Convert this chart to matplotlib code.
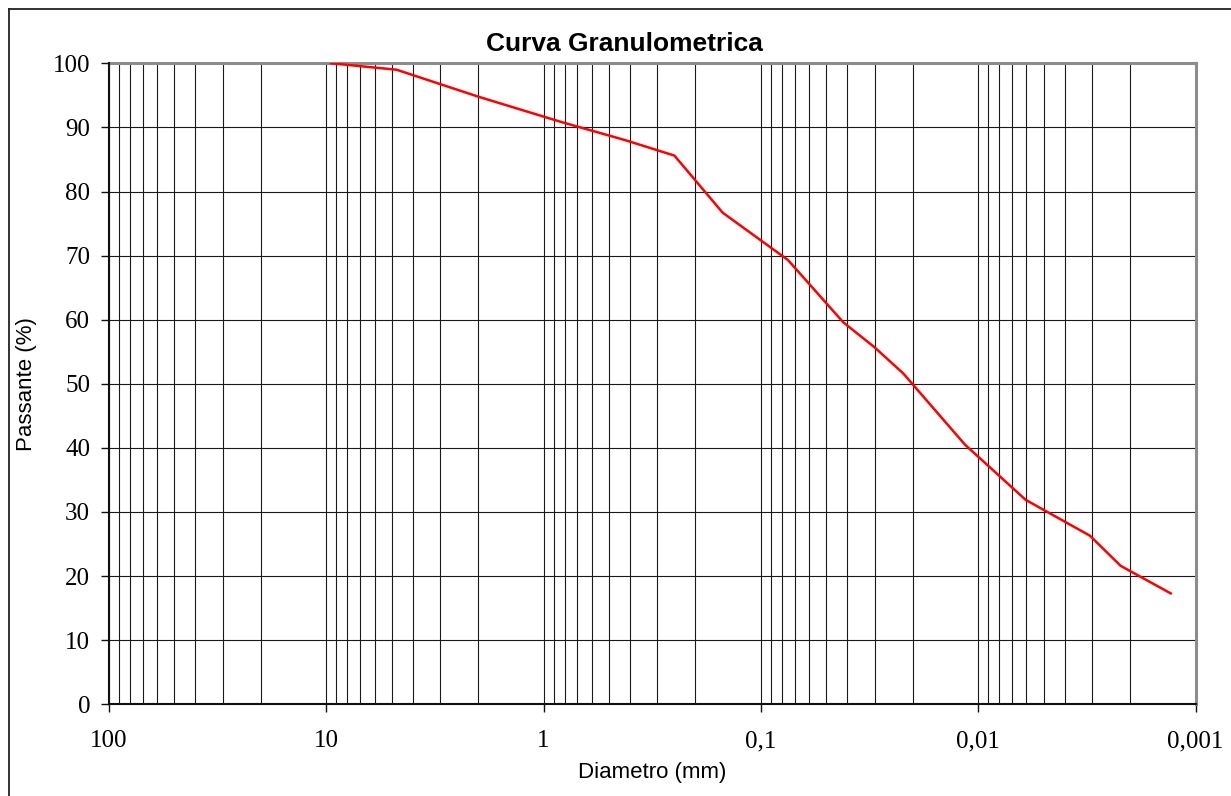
import matplotlib
matplotlib.use("Agg")
import matplotlib.pyplot as plt
from matplotlib.ticker import FixedLocator, FixedFormatter, LogLocator, NullFormatter
from matplotlib.lines import Line2D

# ---- data ----
diametro_mm = [9.5, 4.75, 2.0, 0.84, 0.42, 0.25, 0.15, 0.075, 0.0418, 0.030,
               0.0221, 0.0115, 0.00605, 0.00306, 0.00221, 0.0013]
passante = [100.0, 99.0, 94.8, 90.9, 88.0, 85.6, 76.7, 69.3, 59.6, 55.7,
            51.6, 40.5, 31.9, 26.3, 21.6, 17.3]
x_ticks = [100, 10, 1, 0.1, 0.01, 0.001]
x_tick_labels = ["100", "10", "1", "0,1", "0,01", "0,001"]
y_ticks = [0, 10, 20, 30, 40, 50, 60, 70, 80, 90, 100]
y_tick_labels = [str(v) for v in y_ticks]
title = "Curva Granulometrica"
xlabel = "Diametro (mm)"
ylabel = "Passante (%)"

W, H = 1231, 796
fig = plt.figure(figsize=(W / 100, H / 100), dpi=100)
fig.patch.set_facecolor("white")

left, right, top, bottom = 109, 1195.5, 63.3, 704.3
ax = fig.add_axes([left / W, 1 - bottom / H, (right - left) / W, (bottom - top) / H])

ax.set_xscale("log")
ax.set_xlim(100, 0.001)
ax.set_ylim(0, 100)

# grid
ax.xaxis.set_major_locator(FixedLocator(x_ticks))
ax.xaxis.set_major_formatter(FixedFormatter(x_tick_labels))
ax.xaxis.set_minor_locator(LogLocator(base=10, subs=range(2, 10), numticks=20))
ax.xaxis.set_minor_formatter(NullFormatter())
ax.yaxis.set_major_locator(FixedLocator(y_ticks))
ax.yaxis.set_major_formatter(FixedFormatter(y_tick_labels))

ax.grid(True, which="major", axis="both", color="#1a1a1a", linewidth=0.8, zorder=1)
ax.grid(True, which="minor", axis="x", color="#1a1a1a", linewidth=0.8, zorder=1)
ax.set_axisbelow(True)

ax.plot(diametro_mm, passante, color="#ff0000", linewidth=1.8, zorder=3,
        solid_joinstyle="miter")

# spines
for s in ["top", "right"]:
    ax.spines[s].set_color("#8c8c8c")
    ax.spines[s].set_linewidth(2.2)
for s in ["left", "bottom"]:
    ax.spines[s].set_color("#111111")
    ax.spines[s].set_linewidth(1.5)
    ax.spines[s].set_zorder(4)

serif = ["Liberation Serif", "DejaVu Serif"]
sans = ["Liberation Sans", "DejaVu Sans"]

ax.tick_params(axis="x", which="major", direction="out", length=5.5, width=1.0,
               color="#111111", pad=13, labelsize=18)
ax.tick_params(axis="x", which="minor", length=0)
ax.tick_params(axis="y", which="major", direction="out", length=5.5, width=1.0,
               color="#111111", pad=8, labelsize=18)
for lab in ax.get_xticklabels() + ax.get_yticklabels():
    lab.set_fontfamily(serif)

ax.set_xlabel(xlabel, fontsize=16, fontfamily=sans, labelpad=7)
ax.set_ylabel(ylabel, fontsize=16, fontfamily=sans, labelpad=11)

fig.text(624 / W, 1 - 44 / H, title, ha="center", va="center",
         fontsize=19, fontweight="bold", fontfamily=sans)

# outer chart border (left and top visible)
fig.add_artist(Line2D([8.5 / W, 8.5 / W], [0, 1 - 8.5 / H], color="#222222",
                      linewidth=1.3, transform=fig.transFigure))
fig.add_artist(Line2D([8.5 / W, 1.0], [1 - 8.5 / H, 1 - 8.5 / H], color="#222222",
                      linewidth=1.3, transform=fig.transFigure))

fig.savefig("out.png", dpi=100, facecolor="white")
